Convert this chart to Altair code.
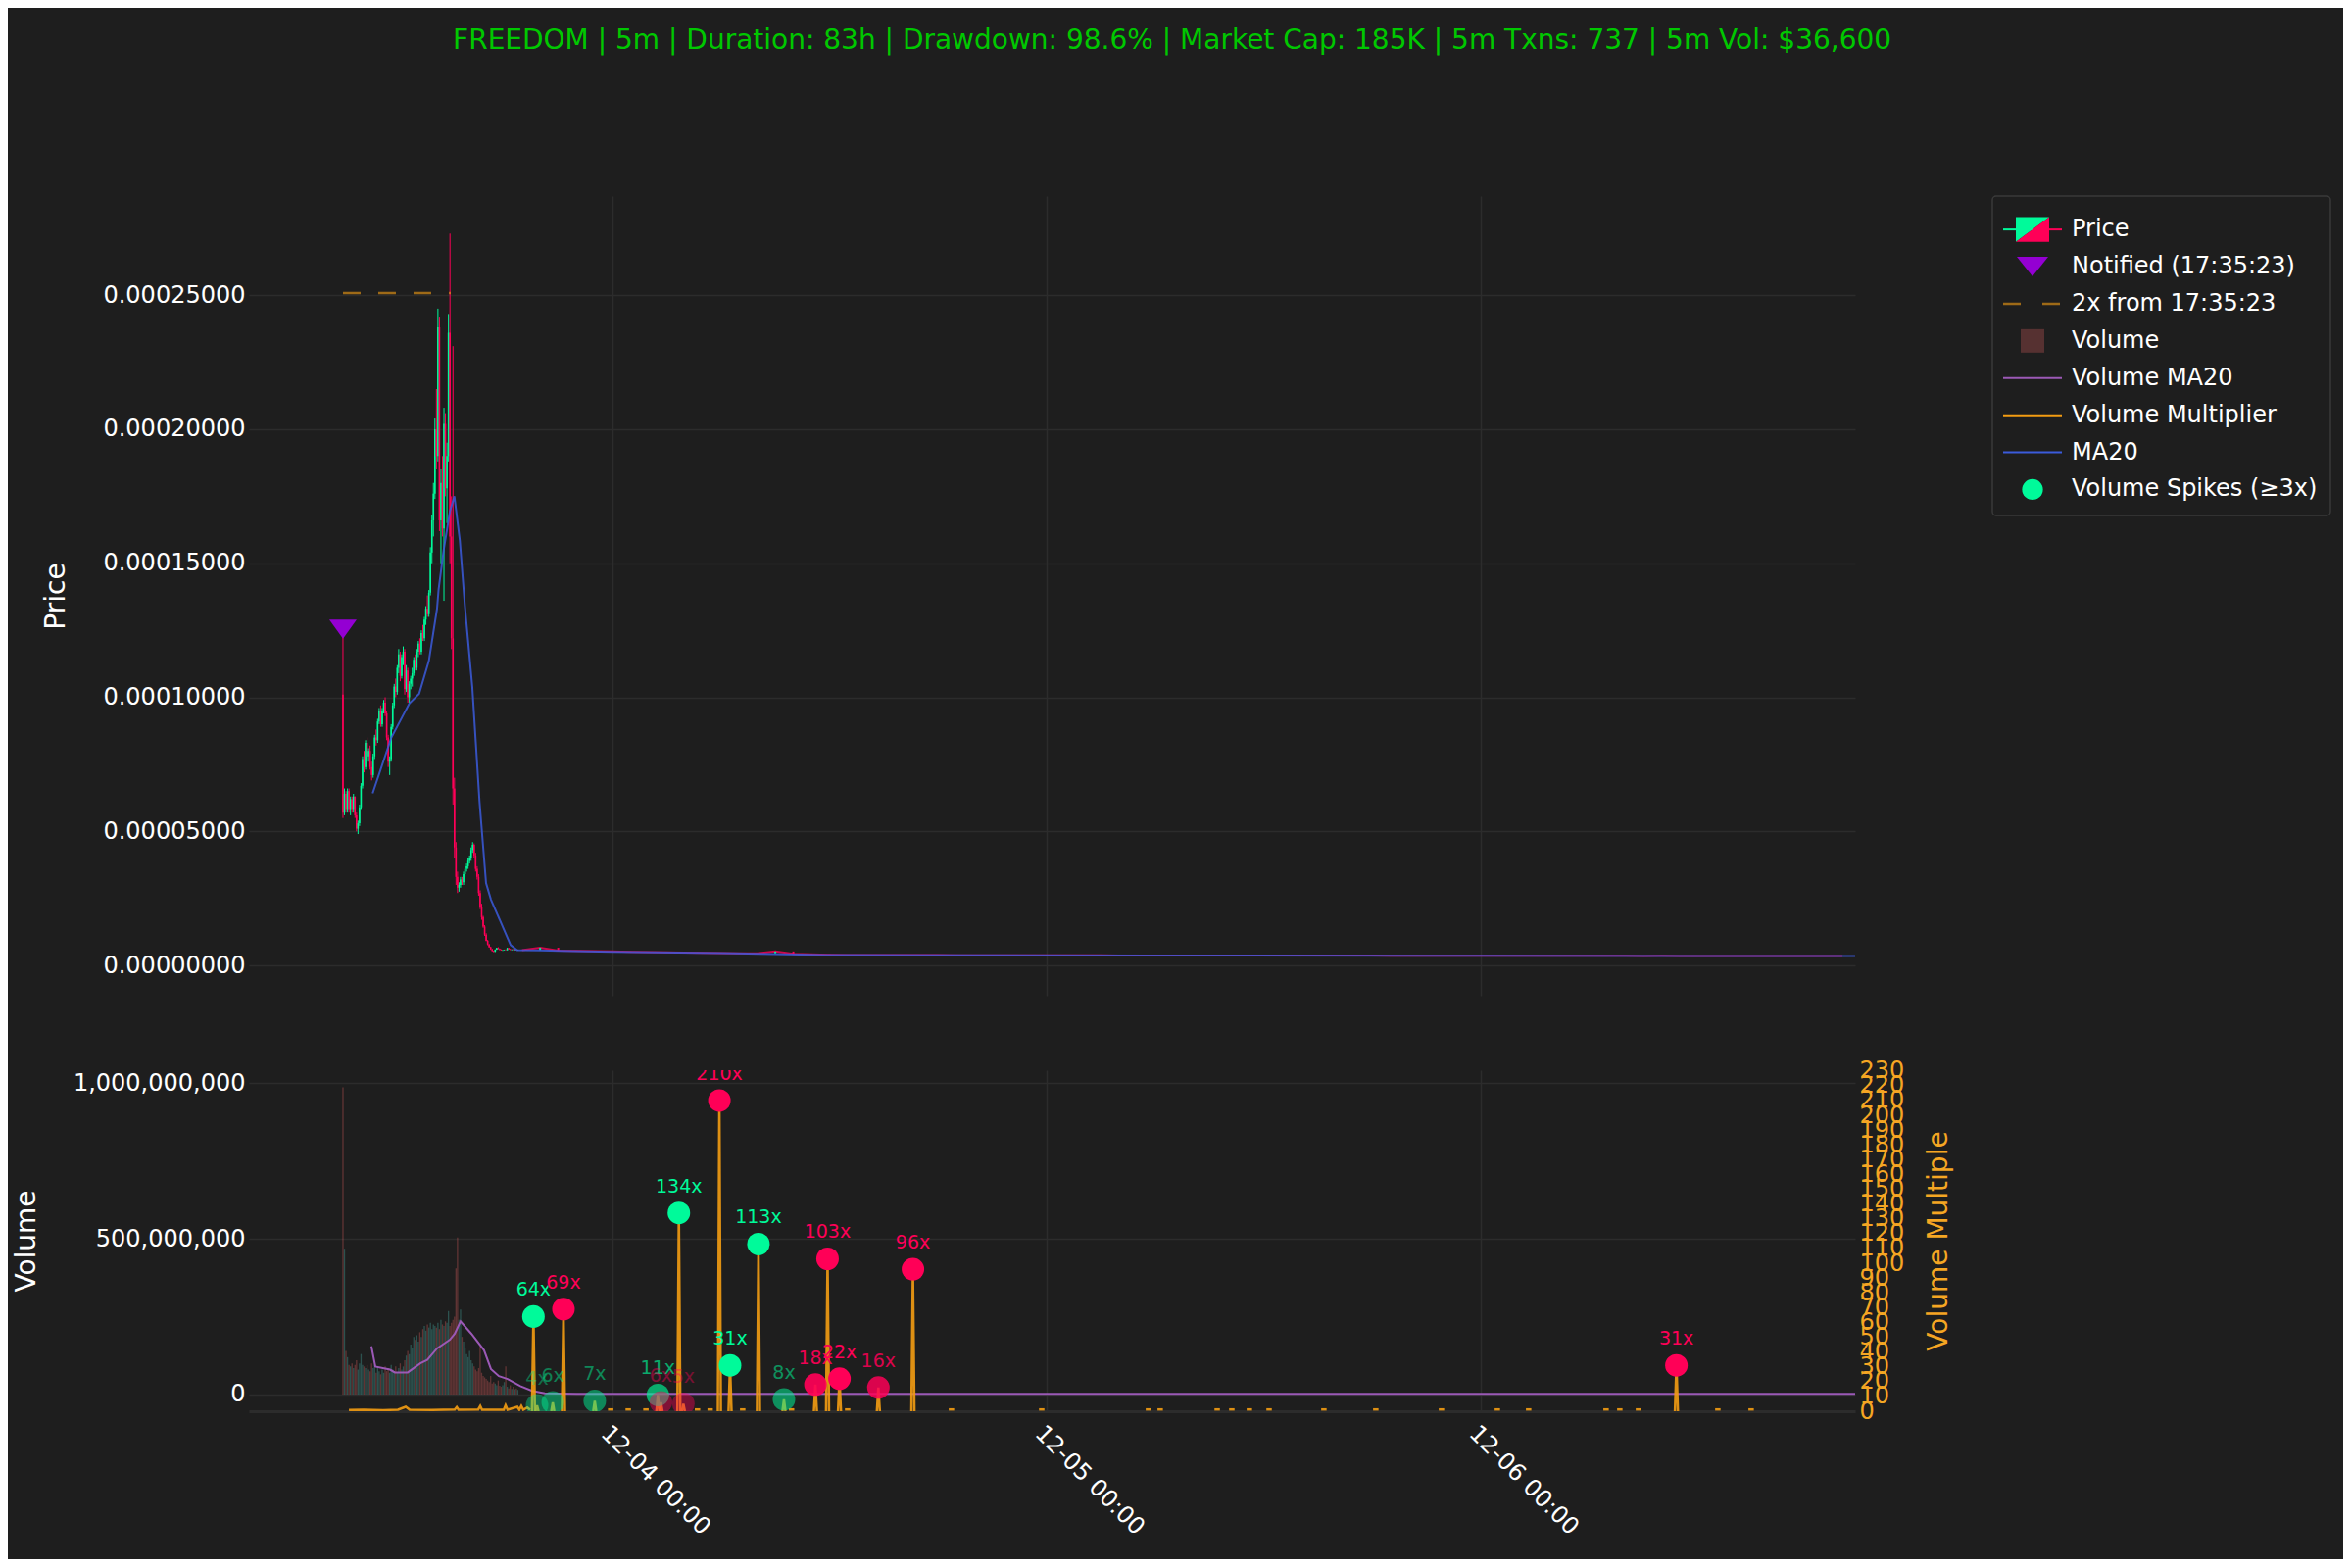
import altair as alt
import pandas as pd

FONT = "DejaVu Sans"
BG = "#1e1e1e"
GRID = "#2c2c2c"
GREEN = "#00fa9a"
RED = "#ff0057"
BLUE = "#3b5bdb"
PURPLE = "#9b59b6"
ORANGE = "#f39c12"
ORANGE_TXT = "#f5a623"
NOTIFY = "#9400d3"
VOL_UP = "#4ecdc4"
VOL_DOWN = "#ff6b6b"
TITLE_GREEN = "#00c800"

TITLE = "FREEDOM | 5m | Duration: 83h | Drawdown: 98.6% | Market Cap: 185K | 5m Txns: 737 | 5m Vol: $36,600"

BASE = pd.Timestamp("2024-12-04 00:00:00", tz="UTC")


def ms(hours):
    return int((BASE + pd.Timedelta(hours=float(hours))).value // 1_000_000)


# ---------------- data (prices in 1e-6, volumes in millions, hours from 12-04 00:00) ----------------
first_candle_hour = -14.9
candle_step_min = 5
first_open = 101
closes = [57, 64, 58, 65, 58, 62, 58, 63, 56, 51,
          53, 59, 67, 77, 74, 83, 78, 80, 74, 71,
          78, 85, 84, 91, 95, 90, 95, 98, 94, 85,
          76, 77, 89, 97, 104, 102, 111, 116, 108, 115,
          117, 103, 110, 100, 105, 107, 109, 114, 111, 117,
          120, 117, 124, 122, 129, 133, 131, 139, 154, 166,
          176, 200, 190, 238, 166, 180, 163, 202, 178, 190,
          236, 160, 122, 66, 44, 33, 29, 30, 32, 31,
          34, 36, 37, 39, 40, 43, 45, 41, 36, 33,
          27, 22, 18, 14.5, 11.5, 9.2, 7.8, 6.8, 6.0, 5.4,
          5.1, 5.9, 6.5, 6.2, 5.8, 5.6, 5.7, 5.8, 5.7, 6.4,
          6.0, 5.8, 5.9, 5.8, 5.9, 5.7, 5.8]
highs = [124, 66, 65, 66, 66, 63, 63, 64, 63, 57,
         54, 60, 68, 78, 80, 84, 85, 81, 82, 76,
         79, 86, 88, 92, 96, 97, 96, 99, 100, 95,
         86, 78, 90, 98, 105, 107, 112, 118, 117, 116,
         119, 118, 112, 111, 106, 108, 111, 115, 116, 118,
         121, 122, 125, 127, 130, 134, 138, 140, 156, 168,
         180, 204, 215, 245, 242, 185, 190, 208, 206, 195,
         243, 273, 175, 231, 70, 46, 35, 31, 33, 33,
         35, 37, 38, 40, 41, 44, 46, 45.5, 42, 37,
         34, 28, 23, 18.5, 15, 12, 9.5, 8, 7, 6.2,
         5.5, 6.0, 6.6, 6.8, 6.3, 6.0, 5.8, 5.9, 6.0, 6.6,
         6.6, 6.2, 6.0, 6.1, 6.0, 6.0, 5.9]
lows = [55, 56, 57, 57, 57, 56, 57, 57, 55, 50,
        49, 52, 58, 66, 72, 73, 77, 76, 73, 69,
        70, 77, 82, 83, 90, 89, 89, 94, 93, 84,
        74, 71, 76, 88, 96, 100, 101, 109, 106, 107,
        112, 101, 102, 98, 98, 103, 104, 108, 110, 110,
        115, 116, 116, 121, 121, 127, 130, 130, 138, 150,
        160, 174, 185, 188, 162, 150, 160, 136, 175, 165,
        188, 150, 118, 60, 40, 30, 27, 27.5, 29, 30,
        30, 33, 35, 36, 38, 39, 42, 40, 35, 32,
        26, 21, 17, 14, 11, 9, 7.5, 6.6, 5.8, 5.2,
        4.9, 5.0, 5.8, 6.0, 5.7, 5.5, 5.4, 5.6, 5.6, 5.6,
        5.9, 5.7, 5.6, 5.7, 5.6, 5.6, 5.6]
volumes_m = [986, 468, 140, 120, 95, 90, 100, 85, 95, 110,
             80, 100, 130, 95, 90, 85, 95, 80, 75, 100,
             85, 95, 70, 90, 75, 65, 80, 70, 90, 75,
             85, 70, 95, 80, 75, 90, 70, 85, 100, 80,
             90, 110, 125, 140, 130, 160, 150, 185, 175, 190,
             170, 200, 185, 210, 220, 205, 225, 215, 230, 210,
             225, 220, 215, 230, 210, 240, 225, 220, 235, 230,
             268, 220, 230, 240, 250, 405, 504, 240, 273, 185,
             170, 150, 130, 120, 140, 110, 100, 90, 80, 75,
             85, 153, 70, 60, 55, 50, 45, 40, 60, 35,
             40, 35, 30, 45, 28, 25, 30, 40, 90, 25,
             20, 30, 18, 25, 17, 20, 15]

tail_first_hour = -5
tail_close = [5.7, 6.6, 5.5, 5.4, 5.3, 5.2, 5.1, 5.0, 4.9, 4.8,
              4.7, 4.6, 4.5, 4.5, 5.2, 4.3, 4.1, 4.0, 3.9, 3.9,
              3.9, 3.88, 3.85, 3.85, 3.8, 3.8, 3.8, 3.8, 3.78, 3.78,
              3.75, 3.75, 3.75, 3.72, 3.72, 3.7, 3.7, 3.72, 3.7, 3.68,
              3.68, 3.7, 3.68, 3.66, 3.66, 3.65, 3.65, 3.66, 3.64, 3.64,
              3.62, 3.62, 3.63, 3.6, 3.6, 3.6, 3.58, 3.58, 3.6, 3.57,
              3.56, 3.56, 3.55, 3.56, 3.55, 3.54, 3.54, 3.53, 3.53, 3.52,
              3.52, 3.51, 3.5, 3.5]

ma_hours = [-13.26, -12.23, -11.23, -10.69, -10.15, -9.70, -9.61, -9.33, -8.98, -8.74,
            -8.44, -8.16, -7.75, -7.35, -6.99, -6.72, -5.63, -5.27, -4.0, -2.9,
            0.0, 6.0, 11.8, 20.0, 30.0, 45.0, 60.0, 68.7]
ma_price = [64.2, 84.9, 97.7, 101.3, 113.6, 133.0, 140.4, 155.0, 169.6, 175.0,
            158.6, 134.2, 103.8, 61.0, 30.7, 24.6, 7.6, 5.7, 5.6, 5.4,
            5.1, 4.6, 3.9, 3.8, 3.72, 3.63, 3.55, 3.5]

vma_hours = [-13.33, -13.11, -12.30, -12.03, -11.32, -10.62, -10.24, -9.70, -8.99, -8.72,
             -8.40, -7.80, -7.10, -6.72, -6.28, -5.80, -5.09, -4.44, -3.74, -2.0,
             10.0, 40.0, 68.7]
vma_m = [155, 90, 80, 71, 71, 100, 111, 148, 176, 195,
         235, 195, 142, 82, 59, 50, 27, 12, 4, 2,
         2, 2, 2]

mult_base_hours = [-14.57, -13.76, -12.68, -11.86, -11.43, -11.21, -9.97, -8.72, -8.61, -8.51,
                   -7.42, -7.31, -7.21, -6.01, -5.91, -5.80, -5.26, -5.15, -5.04, -4.93,
                   -4.71, -4.55]
mult_base_values = [0.8, 1.0, 0.7, 1.0, 3.0, 1.0, 0.9, 1.2, 2.8, 1.0,
                    1.2, 3.5, 1.0, 1.0, 4.0, 1.0, 3.0, 1.0, 3.5, 1.0,
                    2.5, 1.0]
dash_hours = [-0.1, 0.87, 1.85, 4.7, 5.4, 7.2, 9.9, 13.0, 18.74, 23.73,
              29.63, 30.28, 33.43, 34.24, 35.21, 36.30, 39.33, 42.20, 45.83, 48.92,
              50.65, 54.93, 55.69, 56.72, 61.11, 62.95]
dash_level = 1.2

spike_hours = [-4.37, -4.17, -3.30, -2.71, -0.98, 2.51, 2.68, 3.67, 3.92, 5.91,
               6.50, 8.07, 9.48, 11.22, 11.89, 12.55, 14.70, 16.61, 58.82]
spike_mult = [64, 4, 6, 69, 7, 11, 6, 134, 5, 210,
              31, 113, 8, 18, 103, 22, 16, 96, 31]
spike_dir = ["up", "up", "up", "down", "up", "up", "down", "up", "down", "down",
             "up", "up", "up", "down", "down", "down", "down", "down", "down"]

notify_hour = -14.9
notify_price = 125.4
hit2x_hour = -8.94

price_ticks = [0, 5e-5, 1e-4, 1.5e-4, 2e-4, 2.5e-4]
volume_ticks = [0, 5e8, 1e9]
mult_ticks = list(range(0, 240, 10))

legend_labels = ["Price", "Notified (17:35:23)", "2x from 17:35:23", "Volume",
                 "Volume MA20", "Volume Multiplier", "MA20", "Volume Spikes (\u22653x)"]

# ---------------- tables ----------------
U = 1e-6
opens = [first_open] + closes[:-1]
rows = []
for i in range(len(closes)):
    h = first_candle_hour + i * candle_step_min / 60
    up = closes[i] >= opens[i]
    rows.append(dict(t=ms(h), open=opens[i] * U, close=closes[i] * U, high=highs[i] * U,
                     low=lows[i] * U, vol=volumes_m[i] * 1e6,
                     color=GREEN if up else RED, vcolor=VOL_UP if up else VOL_DOWN))
cdf = pd.DataFrame(rows)

trows = []
prev = closes[-1]
for k, c in enumerate(tail_close):
    h = tail_first_hour + k
    trows.append(dict(t=ms(h), open=prev * U, close=c * U, color=GREEN if c >= prev else RED))
    prev = c
tdf = pd.DataFrame(trows)

madf = pd.DataFrame({"t": [ms(h) for h in ma_hours], "p": [v * U for v in ma_price]})
vmadf = pd.DataFrame({"t": [ms(h) for h in vma_hours], "v": [v * 1e6 for v in vma_m]})

mrows = [dict(t=ms(h), m=v, seg="base") for h, v in zip(mult_base_hours, mult_base_values)]
for k, (h, m) in enumerate(zip(spike_hours, spike_mult)):
    for dh, val in ((-5 / 60, 0), (0, m), (5 / 60, 0)):
        mrows.append(dict(t=ms(h + dh), m=val, seg=f"s{k}"))
for k, h in enumerate(dash_hours):
    for dh in (-0.15, 0.15):
        mrows.append(dict(t=ms(h + dh), m=dash_level, seg=f"d{k}"))
mdf = pd.DataFrame(mrows)

sdf = pd.DataFrame({
    "t": [ms(h) for h in spike_hours],
    "m": spike_mult,
    "color": [GREEN if d == "up" else RED for d in spike_dir],
    "alpha": [min(1.0, 0.2 + 0.04 * m) for m in spike_mult],
    "label": [f"{m}x" for m in spike_mult],
})

ddf = pd.DataFrame({"t": [ms(notify_hour)], "t2": [ms(hit2x_hour)], "level": [2 * notify_price * U]})
ndf = pd.DataFrame({"t": [ms(notify_hour)], "p": [notify_price * U]})

# ---------------- scales / axes ----------------
x_scale = alt.Scale(type="utc", domain=[ms(-20.1), ms(68.7)], nice=False)
DAY_TICKS = [ms(0), ms(24), ms(48)]
x_price = alt.X("t:T", scale=x_scale,
                axis=alt.Axis(values=DAY_TICKS, labels=False, ticks=False, domain=False,
                              grid=True, title=None))
x_vol = alt.X("t:T", scale=x_scale,
              axis=alt.Axis(values=DAY_TICKS, labelExpr="utcFormat(datum.value, '%m-%d %H:%M')",
                            labelAngle=45, labelAlign="left", labelBaseline="top",
                            labelPadding=10, ticks=False, domain=True, domainColor=GRID,
                            domainWidth=3, grid=True, title=None))

p_scale = alt.Scale(domain=[-11.3e-6, 287e-6], nice=False, zero=False)
p_axis = alt.Axis(values=price_ticks, format=".8f", title="Price", titlePadding=33, grid=True)


def py(f):
    return alt.Y(f, scale=p_scale, axis=p_axis)


v_scale = alt.Scale(domain=[-53.5e6, 1041e6], nice=False, zero=False)
v_axis = alt.Axis(values=volume_ticks, format=",.0f", title="Volume", titlePadding=33, grid=True)
m_scale = alt.Scale(domain=[0, 230.5], nice=False, zero=False)
m_axis = alt.Axis(orient="right", values=mult_ticks, labelOverlap=False, labelColor=ORANGE_TXT,
                  titleColor=ORANGE_TXT, title="Volume Multiple", titleAngle=270,
                  titleBaseline="top", grid=False, labelPadding=4, titlePadding=22)

col = alt.Color("color:N", scale=None)

# ---------------- price panel ----------------
wick = alt.Chart(cdf).mark_rule(strokeWidth=1).encode(x=x_price, y=py("low:Q"), y2="high:Q", color=col)
body = alt.Chart(cdf).mark_rule(strokeWidth=1.6).encode(x=x_price, y=py("open:Q"), y2="close:Q", color=col)
tail_line = alt.Chart(tdf).mark_line(color=RED, strokeWidth=2, opacity=0.8).encode(x=x_price, y=py("close:Q"))
tail_body = alt.Chart(tdf).mark_rule(strokeWidth=2).encode(x=x_price, y=py("open:Q"), y2="close:Q", color=col)
ma_line = alt.Chart(madf).mark_line(color=BLUE, strokeWidth=2, opacity=0.85).encode(x=x_price, y=py("p:Q"))
dashed = alt.Chart(ddf).mark_rule(color=ORANGE, opacity=0.6, strokeWidth=2.5, strokeDash=[18, 18]).encode(
    x=x_price, x2="t2:T", y=py("level:Q"))
notify = alt.Chart(ndf).mark_point(shape="M-1,-0.7L1,-0.7L0,0.7Z", filled=True, size=784, opacity=1,
                                   color=NOTIFY).encode(x=x_price, y=py("p:Q"))
price = alt.layer(wick, body, tail_line, tail_body, ma_line, dashed, notify).properties(width=1639, height=816)

# ---------------- volume panel ----------------
vbars = alt.Chart(cdf).mark_rule(strokeWidth=1.3, opacity=0.3).encode(
    x=x_vol, y=alt.Y("vol:Q", scale=v_scale, axis=v_axis), y2=alt.datum(0),
    color=alt.Color("vcolor:N", scale=None))
vma = alt.Chart(vmadf).mark_line(color=PURPLE, strokeWidth=2).encode(
    x=x_vol, y=alt.Y("v:Q", scale=v_scale, axis=v_axis))
left = alt.layer(vbars, vma)

mline = alt.Chart(mdf).mark_line(color=ORANGE, strokeWidth=2.5, opacity=0.9, clip=True).encode(
    x=x_vol, y=alt.Y("m:Q", scale=m_scale, axis=m_axis), detail="seg:N")
circles = alt.Chart(sdf).mark_circle(size=530, clip=True).encode(
    x=x_vol, y=alt.Y("m:Q", scale=m_scale, axis=m_axis), color=col,
    opacity=alt.Opacity("alpha:Q", scale=None))
labels = alt.Chart(sdf).mark_text(dy=-17, baseline="bottom", fontSize=19, font=FONT, clip=True).encode(
    x=x_vol, y=alt.Y("m:Q", scale=m_scale, axis=m_axis), color=col,
    opacity=alt.Opacity("alpha:Q", scale=None), text="label:N")
right = alt.layer(mline, circles, labels)
volume = alt.layer(left, right).resolve_scale(y="independent").properties(width=1639, height=348)

# ---------------- legend ----------------
ldf = pd.DataFrame({"label": legend_labels, "row": list(range(len(legend_labels)))})
lbase = alt.Chart(ldf)
ly = alt.Y("row:Q", scale=alt.Scale(domain=[-0.9, 7.7], reverse=True, nice=False, zero=False), axis=None)


def lrow(r):
    return lbase.transform_filter(f"datum.row == {r}")


frame = lrow(0).mark_rect(fill=BG, stroke="#3a3a3a", strokeWidth=1.5, cornerRadius=4).encode(
    x=alt.value(0), x2=alt.value(345), y=alt.value(0), y2=alt.value(326))
ltext = lbase.mark_text(align="left", baseline="middle", fontSize=24, font=FONT, color="#ffffff").encode(
    x=alt.value(81), y=ly, text="label:N")
p_l = lrow(0).mark_rule(color=GREEN, strokeWidth=2).encode(x=alt.value(11), x2=alt.value(41), y=ly)
p_r = lrow(0).mark_rule(color=RED, strokeWidth=2).encode(x=alt.value(41), x2=alt.value(71), y=ly)
p_g = lrow(0).mark_point(shape="M-1,-0.74L1,-0.74L-1,0.74Z", filled=True, size=1156, opacity=1,
                         color=GREEN).encode(x=alt.value(41), y=ly)
p_d = lrow(0).mark_point(shape="M1,-0.74L1,0.74L-1,0.74Z", filled=True, size=1156, opacity=1,
                         color=RED).encode(x=alt.value(41), y=ly)
n_l = lrow(1).mark_point(shape="M-1,-0.62L1,-0.62L0,0.62Z", filled=True, size=1024, opacity=1,
                         color=NOTIFY).encode(x=alt.value(41), y=ly)
d_l = lrow(2).mark_rule(color=ORANGE, opacity=0.6, strokeWidth=2.5, strokeDash=[18, 22]).encode(
    x=alt.value(11), x2=alt.value(71), y=ly)
v_l = lrow(3).mark_point(shape="square", filled=True, size=576, opacity=0.25, color=VOL_DOWN).encode(
    x=alt.value(41), y=ly)
vm_l = lrow(4).mark_rule(color=PURPLE, strokeWidth=2).encode(x=alt.value(11), x2=alt.value(71), y=ly)
mu_l = lrow(5).mark_rule(color=ORANGE, strokeWidth=2).encode(x=alt.value(11), x2=alt.value(71), y=ly)
ma_l = lrow(6).mark_rule(color=BLUE, strokeWidth=2).encode(x=alt.value(11), x2=alt.value(71), y=ly)
s_l = lrow(7).mark_circle(size=452, opacity=1, color=GREEN).encode(x=alt.value(41), y=ly)
legend = alt.layer(frame, ltext, p_l, p_r, p_g, p_d, n_l, d_l, v_l, vm_l, mu_l, ma_l, s_l).properties(
    width=345, height=326)

# ---------------- compose ----------------
chart = alt.hconcat(
    alt.vconcat(price, volume, spacing=64),
    legend,
    spacing=39,
).properties(
    title=alt.TitleParams(TITLE, color=TITLE_GREEN, fontSize=28, font=FONT, fontWeight="normal",
                          anchor="middle", offset=143),
    padding={"left": 5, "top": 20, "right": 12, "bottom": 20},
    background=BG,
).configure_view(stroke=None).configure_axis(
    labelFont=FONT, titleFont=FONT, labelFontSize=24, titleFontSize=28, titleFontWeight="normal",
    labelColor="#ffffff", titleColor="#ffffff", gridColor=GRID, gridWidth=1.5,
    domain=False, ticks=False, labelPadding=4,
).configure_text(font=FONT)

chart.save("out.html", embed_options={"renderer": "svg", "actions": False})
